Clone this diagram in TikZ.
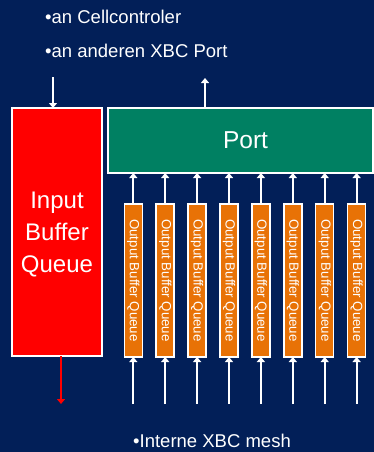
\documentclass[tikz,border=0pt]{standalone}
\usepackage{fontspec}
\usepackage{graphicx}
\setmainfont{Liberation Sans}
\usetikzlibrary{arrows.meta}
\definecolor{navy}{RGB}{2,31,88}
\definecolor{qred}{RGB}{255,0,0}
\definecolor{portgreen}{RGB}{0,128,98}
\definecolor{qorange}{RGB}{232,114,6}
\tikzset{
  box/.style={draw=white, line width=1.5pt, inner sep=0pt, outer sep=0pt, text=white},
  obqbox/.style={box, fill=qorange, minimum width=18pt, minimum height=153pt,
    font=\fontsize{13.3}{14}\selectfont},
  flow/.style={draw=white, line width=2pt, -{Triangle[width=8pt,length=5pt]}},
  caption/.style={text=white, anchor=base west, inner sep=0pt, font=\fontsize{18.5}{20}\selectfont}
}
\begin{document}
\begin{tikzpicture}[x=1pt, y=-1pt]
  % backdrop
  \fill[navy] (0,0) rectangle (374,452);
  \useasboundingbox (0,0) rectangle (374,452);

  % captions
  \node[caption] (capcell) at (45,23.3) {•an Cellcontroler};
  \node[caption] (capxbc) at (45,57.3) {•an anderen XBC Port};
  \node[caption] (capmesh) at (133,447.3) {•Interne XBC mesh};

  % input buffer queue
  \node[box, fill=qred, minimum width=90pt, minimum height=248pt] (inq) at (57,232) {};
  \node[text=white, align=center, inner sep=0pt, font=\fontsize{24}{32}\selectfont]
    (inqlabel) at ([yshift=-3pt]inq.center) {Input\\Buffer\\Queue};

  % port
  \node[box, fill=portgreen, minimum width=265pt, minimum height=65pt,
    font=\fontsize{24.5}{26}\selectfont] (port) at (240.5,140.5) {\kern10pt Port};

  % arrows into the input queue and out of the port
  \coordinate (cin) at (53,77);
  \draw[flow] (cin) -- (cin |- inq.north);
  \coordinate (pout) at (205,78);
  \draw[flow] (pout |- port.north) -- (pout);
  \coordinate (rout) at (61,404);
  \draw[flow, draw=qred, fill=qred] (rout |- inq.south) -- (rout);

  % output buffer queues
  \foreach \i in {1,...,8} {
    \pgfmathsetmacro{\xc}{133.3+31.9*(\i-1)}
    \node[obqbox] (obq\i) at (\xc,280.5) {\rotatebox{-90}{Output Buffer Queue}};
    \coordinate (mesh\i) at (\xc,404);
    \draw[flow] (obq\i.north) -- (obq\i.north |- port.south);
    \draw[flow] (mesh\i) -- (obq\i.south);
  }
\end{tikzpicture}
\end{document}
